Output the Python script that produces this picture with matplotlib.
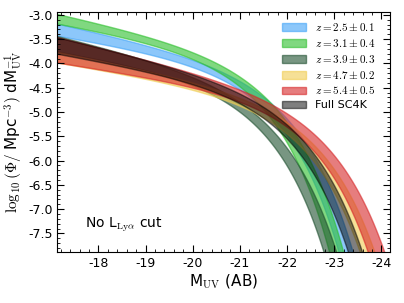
import numpy as np
import matplotlib
matplotlib.use("Agg")
import matplotlib.pyplot as plt

plt.rcParams['mathtext.fontset'] = 'cm'
plt.rcParams['axes.unicode_minus'] = False
plt.rcParams['font.family'] = 'DejaVu Sans'

# UV luminosity functions: Schechter (log phi*, M*, alpha) bounding each band
labels = [r"$z=2.5\pm0.1$", r"$z=3.1\pm0.4$", r"$z=3.9\pm0.3$",
          r"$z=4.7\pm0.2$", r"$z=5.4\pm0.5$", "Full SC4K"]
colors = ['#3fa3f7', '#2cbf2c', '#1e502f', '#f0cc50', '#d62728', 'black']
alphas = [0.6, 0.6, 0.6, 0.6, 0.6, 0.5]
upper_fit = [(-4.002, -21.174, -1.531), (-3.746, -20.900, -1.534), (-4.293, -20.932, -1.590),
             (-4.643, -21.832, -1.486), (-4.601, -22.058, -1.594), (-4.451, -21.532, -1.582)]
lower_fit = [(-3.980, -20.832, -1.399), (-3.723, -20.566, -1.427), (-4.281, -20.610, -1.409),
             (-4.650, -21.500, -1.402), (-4.623, -21.652, -1.373), (-4.465, -21.194, -1.431)]


def schechter(M, logphi, ms, alpha):
    x = 10 ** (-0.4 * (M - ms))
    return np.log10(0.4 * np.log(10)) + logphi + (alpha + 1) * np.log10(x) - x / np.log(10)


M = np.linspace(-17.0, -24.3, 400)
fig = plt.figure(figsize=(4.04, 3.03), dpi=100)
ax = fig.add_axes([0.142, 0.168, 0.823, 0.791])
for lab, c, a, up, lo in zip(labels, colors, alphas, upper_fit, lower_fit):
    yu = schechter(M, *up)
    yl = schechter(M, *lo)
    ax.fill_between(M, np.minimum(yu, yl), np.maximum(yu, yl), color=c, alpha=a, label=lab)

ax.set_xlim(-17.13, -24.18)
ax.set_ylim(-7.885, -2.95)
xt = np.arange(-18, -24.5, -1)
ax.set_xticks(xt)
ax.set_xticklabels(['%d' % v for v in xt])
ax.set_yticks(np.arange(-7.5, -2.9, 0.5))
ax.set_xticks(np.arange(-17.2, -24.2, -0.2), minor=True)
ax.set_yticks(np.arange(-7.8, -2.9, 0.1), minor=True)
ax.tick_params(which='both', direction='in', top=True, right=True, labelsize=9)
ax.tick_params(which='major', length=5)
ax.tick_params(which='minor', length=2.5)
ax.set_xlabel(r"M$_{\rm UV}$ (AB)", fontsize=11, labelpad=2)
ax.set_ylabel(r"$\log_{10}(\Phi/$ Mpc$^{-3})$ dM$_{\rm UV}^{-1}$", fontsize=11, labelpad=2)
ax.text(0.083, 0.10, r"No L$_{\rm Ly\alpha}$ cut", transform=ax.transAxes, fontsize=10)
ax.legend(loc='upper right', bbox_to_anchor=(1.0, 1.025), frameon=False, fontsize=8,
          handlelength=2.2, borderaxespad=0.9, labelspacing=0.35)
fig.savefig("out.png", dpi=100)
